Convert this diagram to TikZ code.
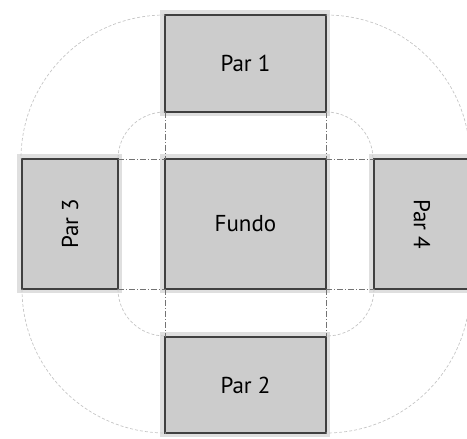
\documentclass[tikz,border=0pt]{standalone}
\usepackage{fontspec}
\setmainfont{PT Sans}
\usetikzlibrary{positioning}
\tikzset{
    node distance=47pt, % gap between the bottom and the walls
    parede/.style={draw=black!75, line width=1.1pt, fill=gray!40, outer sep=0pt,
        preaction={draw=gray!25, line width=9pt}, font=\fontsize{23}{26}\selectfont}, % each face of the box
    guia/.style={draw=black!55, line width=0.6pt, dash pattern=on 6pt off 2pt on 1pt off 2pt}, % fold lines
    arco/.style={draw=gray!45, line width=0.7pt, dash pattern=on 3pt off 2pt}, % swing of the walls
}

\begin{document}
\begin{tikzpicture}
            \useasboundingbox (-245.5pt,-215pt) rectangle (221.5pt,224pt);
            \clip (-245.5pt,-215pt) rectangle (221.5pt,224pt);

            \node[parede, minimum width=161pt, minimum height=130pt] (fundo) at (0,0) {Fundo};
            \node[parede, minimum width=161pt, minimum height=97pt, above=of fundo] (par1) {Par 1};
            \node[parede, minimum width=161pt, minimum height=96pt, below=48pt of fundo] (par2) {Par 2};
            \node[parede, minimum width=96pt, minimum height=130pt, left=of fundo] (par3) {\rotatebox{90}{Par 3}};
            \node[parede, minimum width=96pt, minimum height=130pt, right=48pt of fundo] (par4) {\rotatebox{-90}{Par 4}};

            % fold lines
            \path[guia]
            (par3.north east) edge (fundo.north west)
            (par3.south east) edge (fundo.south west)
            (fundo.north east) edge (par4.north west)
            (fundo.south east) edge (par4.south west)
            (par1.south west) edge (fundo.north west)
            (par1.south east) edge (fundo.north east)
            (fundo.south west) edge (par2.north west)
            (fundo.south east) edge (par2.north east);

            % inner arcs
            \draw[arco] (par1.south west) arc[start angle=90, end angle=180, radius=47pt];
            \draw[arco] (par1.south east) arc[start angle=90, end angle=0, radius=47pt];
            \draw[arco] (par3.south east) arc[start angle=180, end angle=270, radius=47pt];
            \draw[arco] (par4.south west) arc[start angle=0, end angle=-90, radius=47pt];

            % outer arcs
            \draw[arco] (par1.north west) arc[start angle=90, end angle=180, radius=144pt];
            \draw[arco] (par1.north east) arc[start angle=90, end angle=0, radius=144pt];
            \draw[arco] (par3.south west) arc[start angle=180, end angle=270, radius=144pt];
            \draw[arco] (par4.south east) arc[start angle=0, end angle=-90, radius=144pt];

        \end{tikzpicture}
\end{document}
